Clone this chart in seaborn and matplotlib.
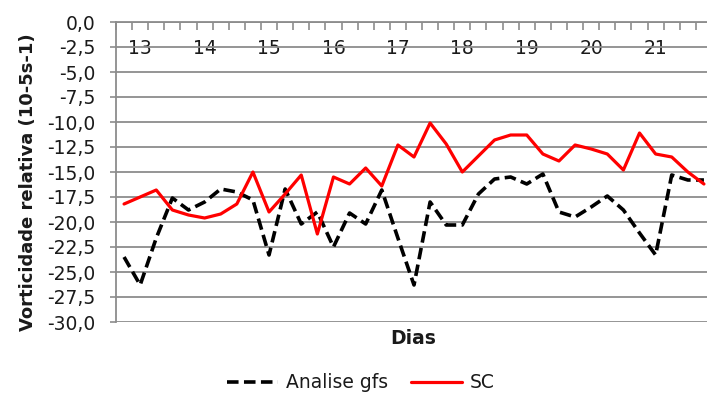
import numpy as np
import pandas as pd
import seaborn as sns
import matplotlib
matplotlib.use("Agg")
import matplotlib.pyplot as plt
from matplotlib.ticker import FixedLocator, FuncFormatter, NullFormatter

# Relative vorticity (10-5 s-1), 6-hourly steps from 12/18Z to 21/18Z
dias = ["13", "14", "15", "16", "17", "18", "19", "20", "21"]
analise_gfs = [-23.5, -26.3, -21.6, -17.6, -18.8, -18.0, -16.7, -17.0, -17.8,
               -23.3, -16.7, -20.2, -19.0, -22.5, -19.1, -20.2, -16.8, -21.6,
               -26.3, -18.0, -20.3, -20.3, -17.2, -15.7, -15.5, -16.2, -15.2,
               -19.0, -19.5, -18.5, -17.4, -18.8, -21.1, -23.3, -15.3, -15.8,
               -15.8]
sc = [-18.2, -17.5, -16.8, -18.8, -19.3, -19.6, -19.2, -18.2, -15.0,
      -19.0, -17.2, -15.3, -21.2, -15.5, -16.2, -14.6, -16.4, -12.3,
      -13.5, -10.1, -12.2, -15.0, -13.4, -11.8, -11.3, -11.3, -13.2,
      -13.9, -12.3, -12.7, -13.2, -14.8, -11.1, -13.2, -13.5, -15.0,
      -16.2]
serie_nomes = ["Analise gfs", "SC"]
y_ticks = np.arange(-30.0, 0.1, 2.5)

sns.set_theme(style="white")
plt.rcParams["font.family"] = ["DejaVu Sans"]
plt.rcParams["text.color"] = "#1a1a1a"

n = len(sc)
passo = np.arange(n)
df = pd.DataFrame({"passo": passo, serie_nomes[0]: analise_gfs, serie_nomes[1]: sc})

grid_col = "#8c8c8c"
fig = plt.figure(figsize=(7.07, 3.94), dpi=100)
ax = fig.add_axes([116 / 707, 72 / 394, 596 / 707, 300 / 394])

sns.lineplot(data=df, x="passo", y=serie_nomes[0], ax=ax, color="black",
             linewidth=2.6, linestyle=(0, (3.2, 1.5)), label=serie_nomes[0])
sns.lineplot(data=df, x="passo", y=serie_nomes[1], ax=ax, color="#ff0000",
             linewidth=2.3, label=serie_nomes[1])
handles, labels = ax.get_legend_handles_labels()
ax.get_legend().remove()

ax.set_xlim(-0.5, n - 0.5)
ax.set_ylim(-30, 0)

# value axis
ax.yaxis.set_major_locator(FixedLocator(y_ticks))
ax.yaxis.set_major_formatter(FuncFormatter(lambda v, _: ("%.1f" % (v + 0.0)).replace(".", ",")))
ax.tick_params(axis="y", which="major", left=True, direction="out", length=4.5,
               width=1.2, color=grid_col, labelsize=13.5, pad=10.5,
               labelcolor="#1a1a1a")
ax.grid(axis="y", color=grid_col, linewidth=1.3)
ax.grid(axis="x", visible=False)

# category axis crosses at zero (top of the plot)
ax.xaxis.set_ticks_position("top")
ax.xaxis.set_major_locator(FixedLocator(np.arange(-0.5, n, 1.0)))
ax.xaxis.set_major_formatter(NullFormatter())
ax.xaxis.set_minor_locator(FixedLocator(np.arange(1, n, 4)[:len(dias)]))
ax.xaxis.set_minor_formatter(FuncFormatter(lambda v, i: dias[i] if i < len(dias) else ""))
ax.tick_params(axis="x", which="major", top=True, bottom=False, direction="in",
               length=6, width=1.2, color=grid_col, labeltop=False, labelbottom=False)
ax.tick_params(axis="x", which="minor", top=True, bottom=False, length=0,
               labeltop=True, labelbottom=False, labelsize=13.5, pad=-26,
               labelcolor="#1a1a1a")

for side in ["right", "bottom"]:
    ax.spines[side].set_visible(False)
for side in ["left", "top"]:
    ax.spines[side].set_color(grid_col)
    ax.spines[side].set_linewidth(1.3)

ax.set_xlabel("Dias", fontsize=13.5, fontweight="bold", color="#1a1a1a")
ax.xaxis.set_label_position("bottom")
ax.xaxis.set_label_coords((413 - 116) / 596, -0.025)
ax.set_ylabel("Vorticidade relativa (10-5s-1)", fontsize=13, fontweight="bold",
              color="#1a1a1a")
ax.yaxis.set_label_coords((37 - 116) / 596, 0.465)

fig.legend(handles, labels, loc="center", bbox_to_anchor=(361 / 707, 1 - 383 / 394),
           ncol=2, frameon=False, fontsize=13.5, handlelength=2.7,
           handletextpad=0.45, columnspacing=1.2)

fig.savefig("out.png", dpi=100)
